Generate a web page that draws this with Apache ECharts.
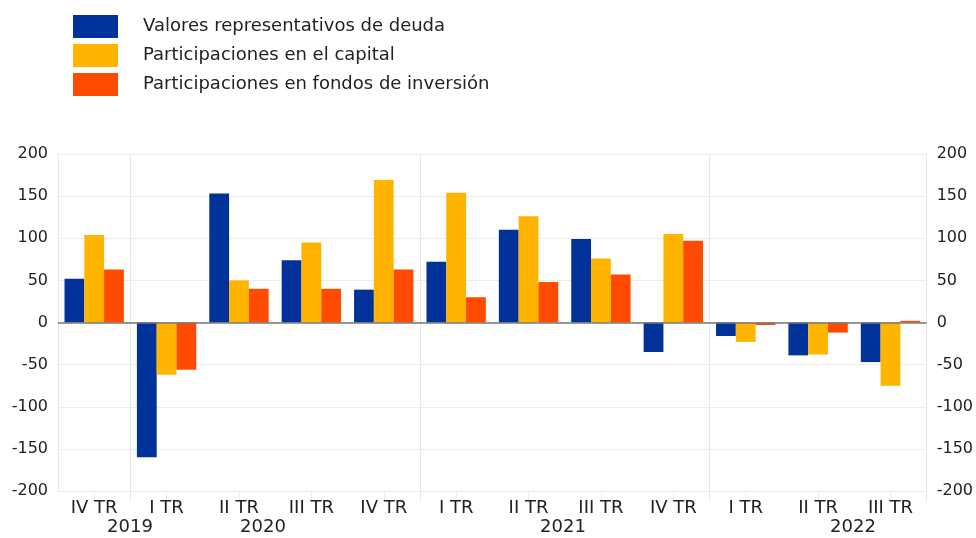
<!DOCTYPE html>
<html lang="es">
<head>
    <meta charset="UTF-8">
    <title>Adquisiciones netas</title>
    <script src="https://cdn.jsdelivr.net/npm/echarts@6/dist/echarts.min.js"></script>
    <style>
        html, body { margin: 0; padding: 0; background: #fff; }
        #main { width: 976px; height: 538px; }
    </style>
</head>
<body>
<div id="main"></div>
<script>
    // datos
    var trimestres = ['IV TR', 'I TR', 'II TR', 'III TR', 'IV TR', 'I TR', 'II TR', 'III TR', 'IV TR', 'I TR', 'II TR', 'III TR'];
    var deuda = [52, -160, 153, 74, 39, 72, 110, 99, -35, -16, -39, -47];
    var capital = [104, -62, 50, 95, 169, 154, 126, 76, 105, -23, -38, -75];
    var fondos = [63, -56, 40, 40, 63, 30, 48, 57, 97, -3, -12, 2];
    var anios = ['2019', '2020', '2021', '2022'];
    var posAnios = [130, 263, 563, 853];
    var separadores = [1, 5, 9];

    var nombres = ['Valores representativos de deuda', 'Participaciones en el capital', 'Participaciones en fondos de inversión'];
    var colores = ['#003299', '#FFB400', '#FF4B00'];
    var fuente = 'DejaVu Sans, sans-serif';

    var myChart = echarts.init(document.getElementById('main'));

    var ejeY = function (pos) {
        return {
            type: 'value',
            position: pos,
            min: -200,
            max: 200,
            interval: 50,
            axisLine: { show: true, lineStyle: { color: '#e8e8e8' } },
            axisTick: { show: false },
            axisLabel: { color: '#222', fontSize: 16, fontFamily: fuente, margin: 10 },
            splitLine: { show: pos === 'left', lineStyle: { color: '#ececec' } }
        };
    };

    var textosAnios = anios.map(function (a, i) {
        return {
            type: 'text',
            x: posAnios[i],
            y: 527,
            style: {
                text: a,
                fill: '#222',
                font: '18px ' + fuente,
                align: 'center',
                verticalAlign: 'middle'
            }
        };
    });

    myChart.setOption({
        color: colores,
        animation: false,
        legend: {
            orient: 'vertical',
            left: 68,
            top: 10,
            itemWidth: 45,
            itemHeight: 23,
            itemGap: 6,
            icon: 'rect',
            data: nombres,
            textStyle: { color: '#222', fontSize: 18, fontFamily: fuente, padding: [0, 0, 0, 20] }
        },
        grid: { left: 58, right: 49, top: 154, bottom: 47 },
        xAxis: [{
            type: 'category',
            data: trimestres,
            axisLine: { show: false, onZero: false },
            axisTick: { show: true, alignWithLabel: true, length: 10, lineStyle: { color: '#eeeeee' } },
            axisLabel: { color: '#222', fontSize: 18, fontFamily: fuente, margin: 8 },
            splitLine: { show: false }
        }, {
            type: 'category',
            data: trimestres,
            position: 'bottom',
            axisLine: { show: false, onZero: false },
            axisLabel: { show: false },
            axisTick: {
                show: true, length: 11, lineStyle: { color: '#e8e8e8' },
                interval: function (i) { return separadores.indexOf(i) >= 0; }
            },
            splitLine: {
                show: true, lineStyle: { color: '#e8e8e8' },
                interval: function (i) { return separadores.indexOf(i) >= 0; }
            }
        }],
        yAxis: [ejeY('left'), ejeY('right')],
        graphic: textosAnios,
        series: [{
            name: nombres[0],
            type: 'bar',
            data: deuda,
            barGap: '0%',
            barCategoryGap: '18%',
            markLine: {
                silent: true,
                symbol: 'none',
                label: { show: false },
                lineStyle: { color: '#777', width: 1.5, type: 'solid' },
                data: [{ yAxis: 0 }]
            }
        }, {
            name: nombres[1],
            type: 'bar',
            data: capital,
            barGap: '0%',
            barCategoryGap: '18%'
        }, {
            name: nombres[2],
            type: 'bar',
            data: fondos,
            barGap: '0%',
            barCategoryGap: '18%'
        }]
    });
</script>
</body>
</html>
